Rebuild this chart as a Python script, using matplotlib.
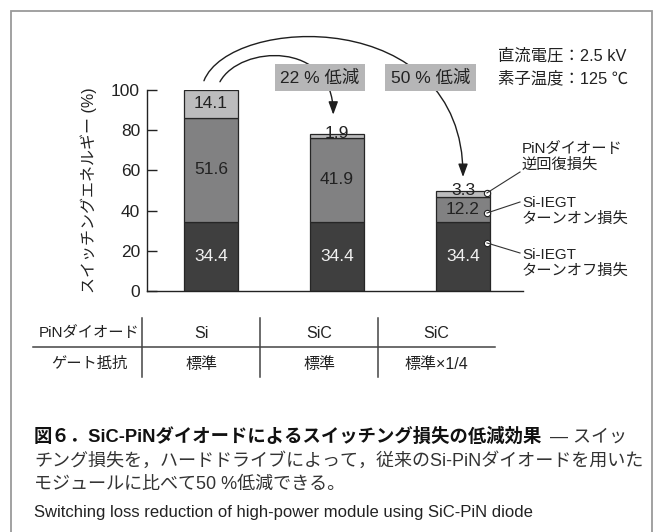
import matplotlib
matplotlib.use("Agg")
import matplotlib.pyplot as plt
from matplotlib.patches import FancyArrowPatch, Rectangle
from matplotlib.path import Path
from matplotlib.lines import Line2D

plt.rcParams['font.family'] = ['Liberation Sans', 'Noto Sans CJK JP', 'DejaVu Sans']

# ---- data ----
cases = ["Si / 標準", "SiC / 標準", "SiC / 標準×1/4"]
turn_off = [34.4, 34.4, 34.4]       # Si-IEGT turn-off loss
turn_on = [51.6, 41.9, 12.2]        # Si-IEGT turn-on loss
recovery = [14.1, 1.9, 3.3]         # PiN diode reverse recovery loss
diode_row = ["Si", "SiC", "SiC"]
gate_row = ["標準", "標準", "標準×1/4"]
reductions = ["22 % 低減", "50 % 低減"]
yticks = [0, 20, 40, 60, 80, 100]

W, H = 653, 532
fig = plt.figure(figsize=(W / 100, H / 100), dpi=100)


def fx(x):
    return x / W


def fy(y):
    return 1 - y / H


dark, mid, light = "#3f3f3f", "#818182", "#bcbcbd"
ink = "#222222"

# outer frame
fig.add_artist(Rectangle((fx(11), fy(545)), fx(652) - fx(11), fy(11) - fy(545),
                         transform=fig.transFigure, fill=False,
                         edgecolor="#9a9a9a", linewidth=1.3))

ax = fig.add_axes([fx(147), fy(291), (523 - 147) / W, (291 - 90) / H])
ax.set_ylim(0, 100)
ax.set_xlim(-0.508, 2.476)
for s in ("top", "right"):
    ax.spines[s].set_visible(False)
for s in ("left", "bottom"):
    ax.spines[s].set_color(ink)
    ax.spines[s].set_linewidth(1.0)
ax.set_xticks([])
ax.set_yticks(yticks)
ax.tick_params(axis="y", direction="in", length=7, width=1.0, color=ink,
               labelsize=12.5, labelcolor=ink, pad=5)
ax.set_ylabel("スイッチングエネルギー (%)", fontsize=11.5, color=ink, labelpad=10)

x = list(range(len(cases)))
bw = 0.43
seg_colors = [dark, mid, light]
txt_colors = ["#f2f2f2", ink, ink]
bottoms = [0.0] * len(x)
for vals, col, tcol in zip([turn_off, turn_on, recovery], seg_colors, txt_colors):
    ax.bar(x, vals, width=bw, bottom=bottoms, color=col, edgecolor="#262626",
           linewidth=0.9, zorder=2)
    for xi, b, v in zip(x, bottoms, vals):
        yy = b + v / 2 if v >= 6 else b + v + 0.3
        ax.text(xi, yy, f"{v:.1f}", ha="center", va="center", fontsize=12.5,
                color=tcol, zorder=4)
    bottoms = [b + v for b, v in zip(bottoms, vals)]
totals = bottoms

# curved reduction arrows
def curve(p0, c1, c2, p3):
    return Path([p0, c1, c2, p3], [Path.MOVETO, Path.CURVE4, Path.CURVE4, Path.CURVE4])

arrow_kw = dict(arrowstyle="-|>,head_length=0.6,head_width=0.22", mutation_scale=13,
                color="#1e1e1e", linewidth=1.0, transform=ax.transData,
                clip_on=False, zorder=3, shrinkA=0, shrinkB=0)
p1 = curve((0.071, totals[0] + 4.0), (0.23, 122.4), (0.97, 124.9), (0.97, totals[1] + 9.5))
p2 = curve((-0.056, totals[0] + 4.5), (0.15, 137.3), (2.0, 142.3), (2.0, totals[2] + 6.8))
ax.add_patch(FancyArrowPatch(path=p1, **arrow_kw))
ax.add_patch(FancyArrowPatch(path=p2, **arrow_kw))

box = dict(boxstyle="square,pad=0.32", facecolor="#b6b6b7", edgecolor="none")
ax.text(0.865, 106.2, reductions[0], ha="center", va="center", fontsize=12.5,
        color=ink, bbox=box, zorder=5, clip_on=False)
ax.text(1.742, 106.2, reductions[1], ha="center", va="center", fontsize=12.5,
        color=ink, bbox=box, zorder=5, clip_on=False)

# operating conditions
fig.text(fx(498), fy(56), "直流電圧：2.5 kV", fontsize=11.8, color=ink, va="center")
fig.text(fx(498), fy(78), "素子温度：125 ℃", fontsize=11.8, color=ink, va="center")

# component callouts
callouts = [
    (48.8, (520, 172), "PiNダイオード\n逆回復損失", 157),
    (38.8, (520, 202), "Si-IEGT\nターンオン損失", 211),
    (23.9, (520, 253), "Si-IEGT\nターンオフ損失", 263),
]
for ymark, (lx, ly), label, ty in callouts:
    ax.plot([2.19], [ymark], marker="o", markersize=4.5, markerfacecolor="white",
            markeredgecolor="#222", markeredgewidth=0.8, zorder=6, clip_on=False)
    xd, yd = ax.transData.transform((2.19, ymark))
    fig.add_artist(Line2D([xd / W, fx(lx)], [yd / H, fy(ly)], transform=fig.transFigure,
                          color="#333", linewidth=0.8))
    fig.text(fx(522), fy(ty), label, fontsize=11, color=ink, va="center",
             ha="left", linespacing=1.15)

# condition table
row_y = [333, 364]
col_cx = [201, 319, 436]
fig.text(fx(89), fy(row_y[0]), "PiNダイオード", fontsize=11, color=ink,
         ha="center", va="center")
fig.text(fx(89), fy(row_y[1]), "ゲート抵抗", fontsize=11, color=ink,
         ha="center", va="center")
for cx, d, g in zip(col_cx, diode_row, gate_row):
    fig.text(fx(cx), fy(row_y[0]), d, fontsize=11.5, color=ink, ha="center", va="center")
    fig.text(fx(cx), fy(row_y[1]), g, fontsize=11.5, color=ink, ha="center", va="center")
fig.add_artist(Line2D([fx(33), fx(495)], [fy(347), fy(347)], transform=fig.transFigure,
                      color="#444", linewidth=1.1))
for vx in (142, 260, 378):
    fig.add_artist(Line2D([fx(vx), fx(vx)], [fy(318), fy(377)], transform=fig.transFigure,
                          color="#444", linewidth=1.1))

# caption
cap_x = 34
t1 = fig.text(fx(cap_x), fy(437), "図６．SiC-PiNダイオードによるスイッチング損失の低減効果",
              fontsize=13.2, fontweight="bold", color="#111", va="center")
fig.canvas.draw()
bb = t1.get_window_extent()
fig.text(bb.x1 / W + fx(8), fy(437), "— スイッ", fontsize=13, color="#333", va="center")
fig.text(fx(cap_x), fy(461), "チング損失を，ハードドライブによって，従来のSi-PiNダイオードを用いた",
         fontsize=13, color="#333", va="center")
fig.text(fx(cap_x), fy(484), "モジュールに比べて50 %低減できる。",
         fontsize=13, color="#333", va="center")
fig.text(fx(cap_x), fy(513), "Switching loss reduction of high-power module using SiC-PiN diode",
         fontsize=12, color="#222", va="center")

fig.savefig("out.png", dpi=100)
